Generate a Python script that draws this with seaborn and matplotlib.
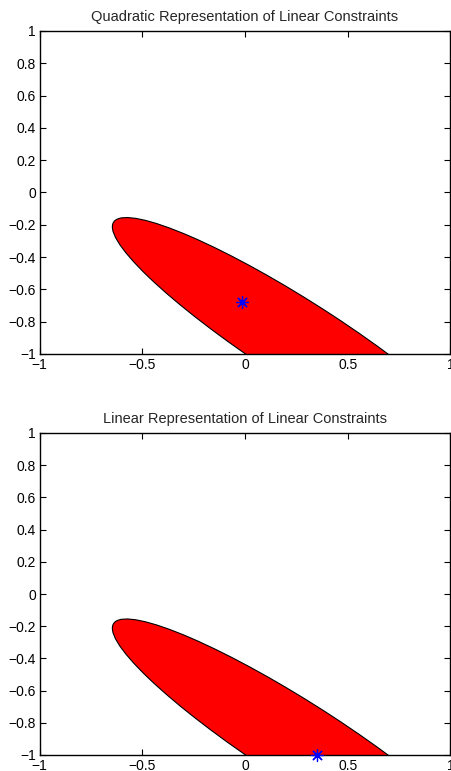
import numpy as np
import pandas as pd
import matplotlib
matplotlib.use("Agg")
import matplotlib.pyplot as plt
from matplotlib.patches import Ellipse
import seaborn as sns

# ---- data ----
titles = ["Quadratic Representation of Linear Constraints",
          "Linear Representation of Linear Constraints"]
# feasible ellipse (same in both panels): centre, full width/height, angle (deg)
ellipse_center = [0.277, -0.934]
ellipse_size = [2.371, 0.457]
ellipse_angle = -39.8
# solution points (asterisks)
sol_x = [-0.013, 0.349]
sol_y = [-0.676, -1.0]
xticks = [-1, -0.5, 0, 0.5, 1]
xtick_labels = ["\u22121", "\u22120.5", "0", "0.5", "1"]
yticks = [-1, -0.8, -0.6, -0.4, -0.2, 0, 0.2, 0.4, 0.6, 0.8, 1]
ytick_labels = ["\u22121", "\u22120.8", "\u22120.6", "\u22120.4", "\u22120.2",
                "0", "0.2", "0.4", "0.6", "0.8", "1"]

sns.set_style("ticks")
plt.rcParams["font.family"] = ["Liberation Sans", "DejaVu Sans"]
plt.rcParams["axes.unicode_minus"] = True

fig = plt.figure(figsize=(4.51, 7.71), dpi=100)
W, H = 451, 771
positions = [
    [39.5 / W, 1 - 354 / H, 411 / W, 323 / H],
    [39.5 / W, 1 - 755 / H, 411 / W, 322 / H],
]

for i in range(2):
    ax = fig.add_axes(positions[i])
    ell = Ellipse(xy=ellipse_center, width=ellipse_size[0], height=ellipse_size[1],
                  angle=ellipse_angle, facecolor="#ff0000", edgecolor="black",
                  linewidth=0.8, zorder=1)
    ax.add_patch(ell)
    df = pd.DataFrame({"x": [sol_x[i]], "y": [sol_y[i]]})
    sns.scatterplot(data=df, x="x", y="y", ax=ax, marker=(8, 2, 0), s=75,
                    color="blue", edgecolor="blue", linewidth=0.9,
                    clip_on=False, zorder=5, legend=False)
    ax.set_xlim(-1, 1)
    ax.set_ylim(-1, 1)
    ax.set_xticks(xticks)
    ax.set_xticklabels(xtick_labels)
    ax.set_yticks(yticks)
    ax.set_yticklabels(ytick_labels)
    ax.set_xlabel("")
    ax.set_ylabel("")
    ax.tick_params(direction="in", length=4, width=0.8, labelsize=10,
                   top=True, right=True, pad=2.5, colors="black")
    ax.tick_params(axis="x", pad=3.0)
    for s in ax.spines.values():
        s.set_visible(True)
        s.set_linewidth(1.0)
        s.set_color("black")
    ax.set_title(titles[i], fontsize=10.5, pad=7.5)

fig.savefig("out.png", dpi=100)
